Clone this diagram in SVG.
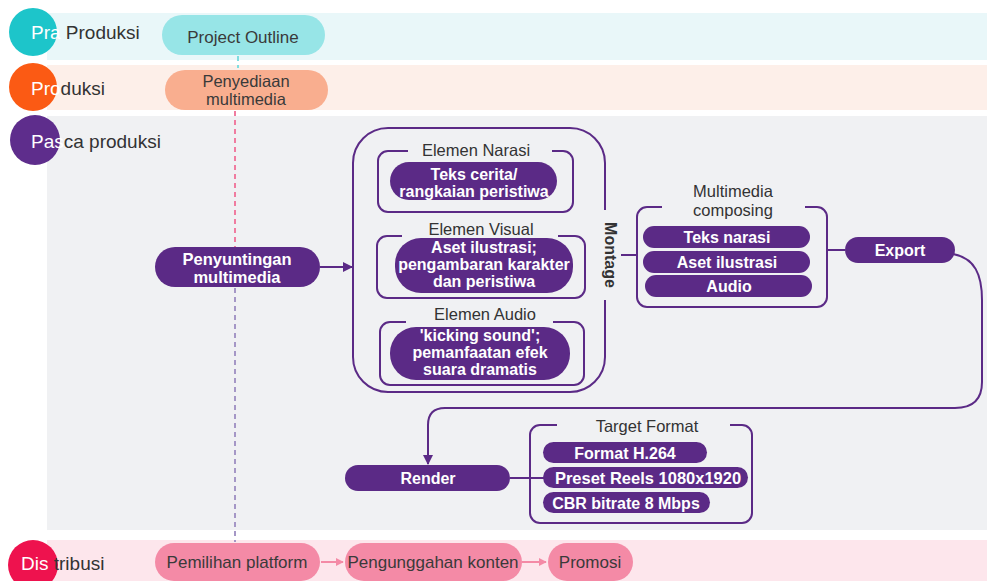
<svg xmlns="http://www.w3.org/2000/svg" width="987" height="581" viewBox="0 0 987 581">
<defs>
<style>
text{font-family:"Liberation Sans",Arial,sans-serif}
.lbl{font-size:19px;fill:#333}
.pt{font-size:17px;fill:#3a3a3a;text-anchor:middle}
.wt{font-size:16px;font-weight:bold;fill:#fff;text-anchor:middle}
.tt{font-size:16.5px;fill:#333;text-anchor:middle}
.pp{fill:#5b2a86}
.box{fill:none;stroke:#5b2a86;stroke-width:2}
.con{fill:none;stroke:#5b2a86;stroke-width:2}
.pk{fill:#f48aa6}
.pcon{fill:none;stroke:#f48aa6;stroke-width:2}
</style>
<marker id="ah" viewBox="0 0 10 10" refX="9" refY="5" markerWidth="5" markerHeight="5" orient="auto"><path d="M0 0 L10 5 L0 10 z" fill="#5b2a86"/></marker>
<marker id="ahp" viewBox="0 0 10 10" refX="9" refY="5" markerWidth="4" markerHeight="4" orient="auto"><path d="M0 0 L10 5 L0 10 z" fill="#f48aa6"/></marker>
</defs>
<rect width="987" height="581" fill="#fff"/>
<g id="lanes">
<rect x="47" y="13" width="940" height="47" fill="#e9f7f9"/>
<rect x="47" y="65" width="940" height="45" fill="#fdefe9"/>
<rect x="47" y="116" width="940" height="414" fill="#f0f1f3"/>
<rect x="47" y="540" width="940" height="41" fill="#fde6ec"/>
<circle cx="33" cy="32" r="24" fill="#1dc5ca"/>
<circle cx="33" cy="87" r="24" fill="#fb5a14"/>
<circle cx="35" cy="140" r="25" fill="#5e2d8c"/>
<circle cx="33" cy="565" r="25" fill="#ee124e"/>
<text class="lbl" x="31" y="39"><tspan fill="#fff">Pra</tspan> Produksi</text>
<text class="lbl" x="31" y="95"><tspan fill="#fff">Pro</tspan>duksi</text>
<text class="lbl" x="31" y="148"><tspan fill="#fff">Pas</tspan>ca produksi</text>
<text class="lbl" x="21" y="570"><tspan fill="#fff">Dis</tspan> tribusi</text>
</g>
<g id="connectors">
<path d="M238 56 V68" stroke="#7fdde0" stroke-width="2" stroke-dasharray="5 4" fill="none"/>
<path d="M235 111 V247" stroke="#f07ca0" stroke-width="2" stroke-dasharray="5 4" fill="none"/>
<path d="M235 288 V542" stroke="#a597c6" stroke-width="2" stroke-dasharray="5 4" fill="none"/>
<path class="con" d="M320 267 H352" marker-end="url(#ah)"/>
<path class="con" d="M621 255 H637"/>
<path class="con" d="M827 250 H845"/>
<path class="con" d="M953 254 C975 258 982 275 982 300 V382 Q982 408 955 408 H445 Q428 408 428 425 V464" marker-end="url(#ah)"/>
<path class="con" d="M510 478 H545"/>
<path class="pcon" d="M321 562 H343" marker-end="url(#ahp)"/>
<path class="pcon" d="M522 562 H546" marker-end="url(#ahp)"/>
</g>
<g id="project-outline"><rect x="162" y="15" width="163" height="40" rx="20" fill="#97e5e7"/><text class="pt" x="243" y="43">Project Outline</text></g>
<g id="penyediaan"><rect x="165" y="70" width="163" height="40" rx="20" fill="#f9ae8f"/><text class="pt" x="246" y="87" style="font-size:16.5px">Penyediaan</text><text class="pt" x="246" y="104.5" style="font-size:16.5px">multimedia</text></g>
<g id="penyuntingan"><rect x="155" y="247" width="165" height="40" rx="20" class="pp"/><text class="wt" x="237" y="264.5" style="font-size:16.5px">Penyuntingan</text><text class="wt" x="237" y="282.5" style="font-size:16.5px">multimedia</text></g>
<g id="montage">
<path class="box" d="M605 210 V163 A35 35 0 0 0 570 128 H388 A35 35 0 0 0 353 163 V357 A35 35 0 0 0 388 392 H570 A35 35 0 0 0 605 357 V300"/>
<text x="605" y="255" transform="rotate(90 605 255)" style="font-size:16px;font-weight:bold;fill:#333;text-anchor:middle">Montage</text>
</g>
<g id="elemen-narasi">
<path class="box" d="M408 151 H388 A10 10 0 0 0 378 161 V202 A10 10 0 0 0 388 212 H563 A10 10 0 0 0 573 202 V161 A10 10 0 0 0 563 151 H552"/>
<text class="tt" x="476" y="156">Elemen Narasi</text>
<rect x="390" y="162" width="167" height="38" rx="19" class="pp"/>
<text class="wt" x="474" y="179.5">Teks cerita/</text><text class="wt" x="474" y="196.5">rangkaian peristiwa</text>
</g>
<g id="elemen-visual">
<path class="box" d="M402 236 H387 A10 10 0 0 0 377 246 V288 A10 10 0 0 0 387 298 H575 A10 10 0 0 0 585 288 V246 A10 10 0 0 0 575 236 H558"/>
<text class="tt" x="481" y="235">Elemen Visual</text>
<rect x="395" y="238" width="178" height="55" rx="26" class="pp"/>
<text class="wt" x="484" y="253">Aset ilustrasi;</text><text class="wt" x="484" y="270">pengambaran karakter</text><text class="wt" x="484" y="287">dan peristiwa</text>
</g>
<g id="elemen-audio">
<path class="box" d="M406 322 H390 A10 10 0 0 0 380 332 V375 A10 10 0 0 0 390 385 H574 A10 10 0 0 0 584 375 V332 A10 10 0 0 0 574 322 H553"/>
<text class="tt" x="485" y="320">Elemen Audio</text>
<rect x="390" y="327" width="180" height="53" rx="26" class="pp"/>
<text class="wt" x="480" y="341">'kicking sound';</text><text class="wt" x="480" y="358">pemanfaatan efek</text><text class="wt" x="480" y="375">suara dramatis</text>
</g>
<g id="multimedia-composing">
<path class="box" d="M662 207 H647 A10 10 0 0 0 637 217 V297 A10 10 0 0 0 647 307 H817 A10 10 0 0 0 827 297 V217 A10 10 0 0 0 817 207 H805"/>
<text class="tt" x="733" y="197">Multimedia</text><text class="tt" x="733" y="216">composing</text>
<rect x="643" y="226" width="167" height="22" rx="11" class="pp"/><text class="wt" x="727" y="243">Teks narasi</text>
<rect x="643" y="251" width="167" height="22" rx="11" class="pp"/><text class="wt" x="727" y="268">Aset ilustrasi</text>
<rect x="645" y="275" width="167" height="22" rx="11" class="pp"/><text class="wt" x="729" y="292">Audio</text>
</g>
<g id="export"><rect x="845" y="237" width="110" height="26" rx="13" class="pp"/><text class="wt" x="900" y="256">Export</text></g>
<g id="render"><rect x="345" y="465" width="165" height="26" rx="13" class="pp"/><text class="wt" x="428" y="484">Render</text></g>
<g id="target-format">
<path class="box" d="M557 425 H540 A10 10 0 0 0 530 435 V513 A10 10 0 0 0 540 523 H742 A10 10 0 0 0 752 513 V435 A10 10 0 0 0 742 425 H730"/>
<text class="tt" x="647" y="432">Target Format</text>
<rect x="543" y="442" width="164" height="21" rx="10.5" class="pp"/><text class="wt" x="625" y="459">Format H.264</text>
<rect x="543" y="467" width="205" height="21" rx="10.5" class="pp"/><text class="wt" x="648" y="484" style="font-size:16.5px">Preset Reels 1080x1920</text>
<rect x="543" y="492" width="167" height="21" rx="10.5" class="pp"/><text class="wt" x="626" y="509">CBR bitrate 8 Mbps</text>
</g>
<g id="pemilihan-platform"><rect x="155" y="543" width="165" height="38" rx="19" class="pk"/><text class="pt" x="237" y="568">Pemilihan platform</text></g>
<g id="pengunggahan-konten"><rect x="345" y="543" width="177" height="38" rx="19" class="pk"/><text class="pt" x="433" y="568">Pengunggahan konten</text></g>
<g id="promosi"><rect x="548" y="543" width="85" height="38" rx="19" class="pk"/><text class="pt" x="590" y="568">Promosi</text></g>
</svg>
